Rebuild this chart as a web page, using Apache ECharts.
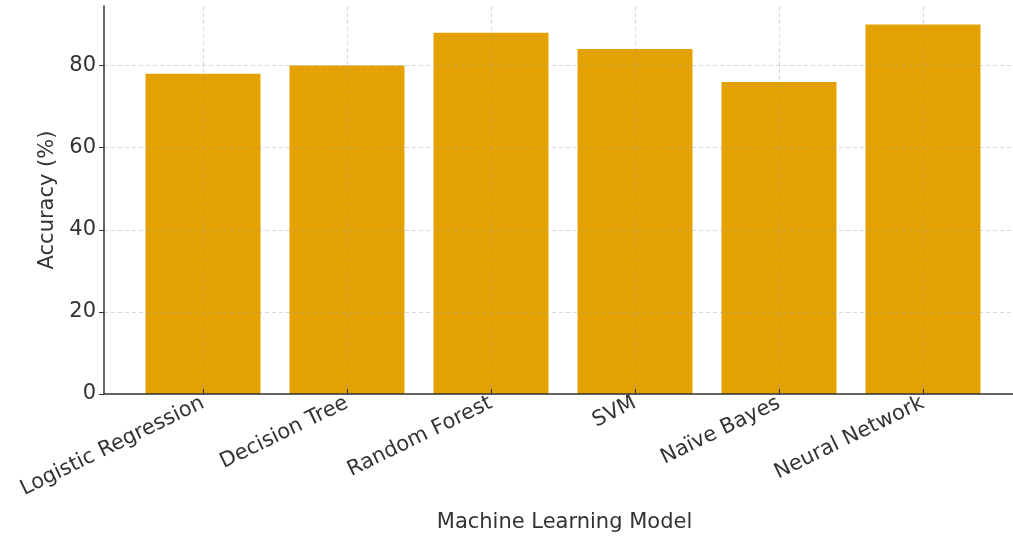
<!DOCTYPE html>
<html>
<head>
<meta charset="utf-8">
<script src="https://cdn.jsdelivr.net/npm/echarts@6/dist/echarts.min.js"></script>
<style>
  html, body { margin: 0; padding: 0; background: #fff; }
  #chart { width: 1013px; height: 542px; }
</style>
</head>
<body>
<div id="chart"></div>
<script>
// data
const categories = ['Logistic Regression', 'Decision Tree', 'Random Forest', 'SVM', 'Naïve Bayes', 'Neural Network']
const accuracy = [78, 80, 88, 84, 76, 90]
const yTicks = [0, 20, 40, 60, 80]
const xTicks = categories.map((c, i) => i)

const font = 'DejaVu Sans'
const gridLine = {
    show: true,
    lineStyle: { color: 'rgba(160,160,160,0.4)', type: [4, 3], width: 1 }
}

const chart = echarts.init(document.getElementById('chart'), null, { renderer: 'canvas' })

chart.setOption({
    animation: false,
    backgroundColor: '#fff',
    textStyle: { fontFamily: font },
    grid: { left: 104, top: 6, right: 0, bottom: 148 },
    xAxis: {
        type: 'value',
        min: -0.6875,
        max: 5.625,
        z: 3,
        name: 'Machine Learning Model',
        nameLocation: 'middle',
        nameGap: 118,
        nameTextStyle: { fontSize: 21, color: '#333', fontFamily: font, padding: [0, 0, 0, 12] },
        axisLine: { show: true, onZero: false, lineStyle: { color: '#333', width: 1.5 } },
        axisTick: { show: true, inside: true, length: 5, customValues: xTicks, lineStyle: { color: '#333' } },
        axisLabel: {
            customValues: xTicks,
            formatter: v => categories[Math.round(v)] || '',
            rotate: 26,
            fontSize: 21,
            color: '#333',
            margin: 8,
            fontFamily: font
        },
        splitLine: gridLine
    },
    yAxis: {
        type: 'value',
        min: 0,
        max: 94.5,
        z: 3,
        name: 'Accuracy (%)',
        nameLocation: 'middle',
        nameGap: 45,
        nameTextStyle: { fontSize: 21, color: '#333', fontFamily: font },
        axisLine: { show: true, onZero: false, lineStyle: { color: '#333', width: 1.5 } },
        axisTick: { show: true, length: 5, customValues: yTicks, lineStyle: { color: '#333' } },
        axisLabel: { customValues: yTicks, fontSize: 21, color: '#333', margin: 8, fontFamily: font },
        splitLine: gridLine
    },
    series: [{
        type: 'bar',
        data: accuracy.map((v, i) => [i, v]),
        barWidth: 115,
        itemStyle: { color: '#E3A102' }
    }]
})
</script>
</body>
</html>
